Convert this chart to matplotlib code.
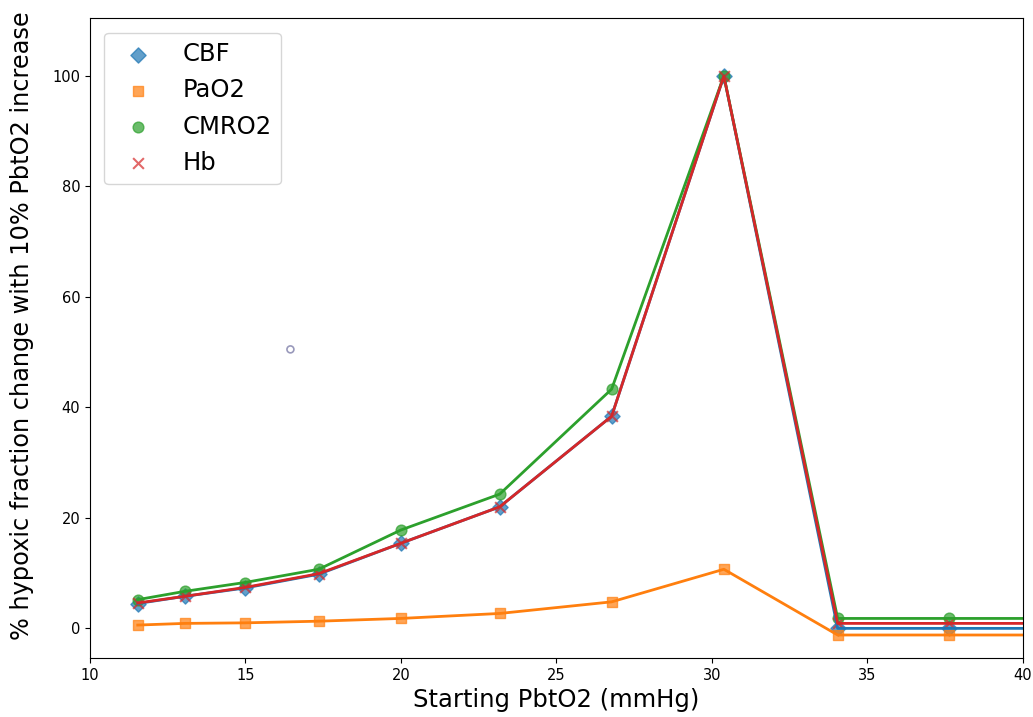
import numpy as np
import matplotlib.pyplot as plt

# starting PbtO2 values (last one sits just past the axis edge)
pbto2 = [11.54, 13.05, 14.98, 17.36, 20.0, 23.18, 26.78, 30.39, 34.05, 37.62, 41.2]

cbf = [4.5, 5.8, 7.3, 9.8, 15.4, 22.0, 38.4, 100.0, 0.0, 0.0, 0.0]
pao2 = [0.6, 0.9, 1.0, 1.3, 1.8, 2.7, 4.8, 10.7, -1.2, -1.2, -1.2]
cmro2 = [5.2, 6.7, 8.3, 10.7, 17.8, 24.3, 43.3, 100.0, 1.8, 1.8, 1.8]
hb = [4.6, 5.8, 7.4, 9.9, 15.4, 22.0, 38.4, 100.0, 0.9, 0.9, 0.9]

stray_x, stray_y = [16.45], [50.5]

fig = plt.figure(figsize=(10.33, 7.17), dpi=100)
ax = fig.add_axes([0.087, 0.082, 0.903, 0.893])

series = [('CBF', cbf, 'D', 'tab:blue'),
          ('PaO2', pao2, 's', 'tab:orange'),
          ('CMRO2', cmro2, 'o', 'tab:green'),
          ('Hb', hb, 'x', 'tab:red')]

for name, ys, mk, col in series:
    ax.scatter(pbto2, ys, marker=mk, color=col, alpha=0.7, s=60, label=name)
for name, ys, mk, col in series:
    ax.plot(pbto2, ys, color=col, lw=2)

ax.scatter(stray_x, stray_y, marker='o', facecolors='none',
           edgecolors='#9999bb', s=25, lw=1.2)

ax.set_xlim(10, 40)
ax.set_ylim(-5.4, 110.5)
ax.tick_params(labelsize=10.5)
ax.set_xlabel('Starting PbtO2 (mmHg)', fontsize=17.5)
ax.set_ylabel('% hypoxic fraction change with 10% PbtO2 increase', fontsize=17.3)
ax.yaxis.set_label_coords(-0.06, 0.52)
ax.legend(loc='upper left', fontsize=17.5, borderaxespad=0.6)

plt.savefig('out.png')
